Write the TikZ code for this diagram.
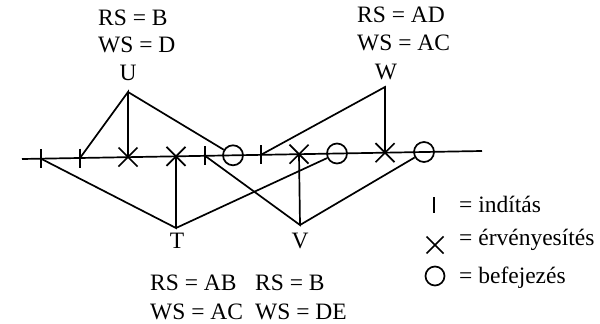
\documentclass[tikz,border=0pt]{standalone}
\usepackage{fontspec}
\setmainfont{Liberation Serif}
\begin{document}
\begin{tikzpicture}[x=1pt,y=-1pt,
  every node/.style={font=\fontsize{23.5}{27}\selectfont},
  link/.style={line width=1.7pt},
  startmark/.style={inner sep=0pt, outer sep=0pt, minimum width=0pt, minimum height=19pt},
  checkmark/.style={inner sep=0pt, outer sep=0pt, minimum size=19pt},
  endmark/.style={draw, circle, line width=1.7pt, minimum size=20pt, inner sep=0pt},
  setlabel/.style={anchor=base west, inner sep=0pt},
  txname/.style={anchor=base, inner sep=0pt}]
\useasboundingbox (0,0) rectangle (600,324);

% time axis
\coordinate (axisL) at (22,159);
\coordinate (axisR) at (482,151);
\draw[link] (axisL) -- (axisR);

% events on the axis
\node[startmark] (s1) at (41,158.7) {};
\node[startmark] (s2) at (80,158) {};
\node[checkmark] (x1) at (128,157) {};
\node[checkmark] (x2) at (176,156.3) {};
\node[startmark] (s3) at (205,155.8) {};
\node[endmark]   (e1) at (233,155.3) {};
\node[startmark] (s4) at (261,154.8) {};
\node[checkmark] (x3) at (299,154.2) {};
\node[endmark]   (e2) at (337,153.5) {};
\node[checkmark] (x4) at (385,152.7) {};
\node[endmark]   (e3) at (424,152) {};
\foreach \s in {s1,s2,s3,s4}
  \draw[link] (\s.north) -- (\s.south);
\foreach \x in {x1,x2,x3,x4}
  \draw[link] (\x.north west) -- (\x.south east) (\x.north east) -- (\x.south west);

% transaction apexes
\coordinate (U) at (128,92);
\coordinate (W) at (385,87);
\coordinate (T) at (176,228);
\coordinate (V) at (300,225);

\draw[link] (s2.center) -- (U) -- (x1.center);
\draw[link] (U) -- (e1);
\draw[link] (s1.center) -- (T) -- (x2.center);
\draw[link] (T) -- (e2);
\draw[link] (s3.center) -- (V) -- (x3.center);
\draw[link] (V) -- (e3);
\draw[link] (s4.center) -- (W) -- (x4.center);

% names and read/write sets
\node[txname] (nU) at (128,80) {U};
\node[setlabel] (rsU) at (98,25) {RS = B};
\node[setlabel] (wsU) at (98,52) {WS = D};
\node[txname] (nW) at (386,79) {W};
\node[setlabel] (rsW) at (357,22) {RS = AD};
\node[setlabel] (wsW) at (357,50) {WS = AC};
\node[txname] (nT) at (177,248) {T};
\node[setlabel] (rsT) at (150,290) {RS = AB};
\node[setlabel] (wsT) at (150,319) {WS = AC};
\node[txname] (nV) at (300,248) {V};
\node[setlabel] (rsV) at (255,290) {RS = B};
\node[setlabel] (wsV) at (255,319) {WS = DE};

% legend
\node[startmark, minimum height=16pt] (lgs) at (434,205) {};
\draw[link] (lgs.north) -- (lgs.south);
\node[checkmark, minimum size=17pt] (lgx) at (435,245) {};
\draw[link] (lgx.north west) -- (lgx.south east) (lgx.north east) -- (lgx.south west);
\node[endmark, minimum size=19pt] (lge) at (435,276) {};
\node[setlabel] (lgst) at (459,212) {= indítás};
\node[setlabel] (lgxt) at (459,245) {= érvényesítés};
\node[setlabel] (lget) at (459,283) {= befejezés};
\end{tikzpicture}
\end{document}
